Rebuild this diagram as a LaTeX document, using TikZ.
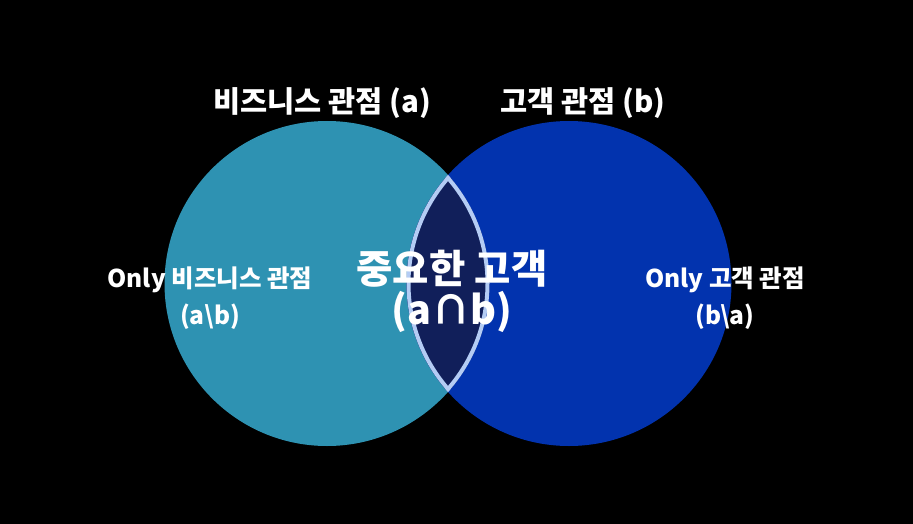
\documentclass[tikz,border=0pt]{standalone}
\usepackage{fontspec}
\setmainfont{Noto Sans CJK KR}
\definecolor{leftc}{HTML}{2E92B2}
\definecolor{rightc}{HTML}{0233AE}
\definecolor{lensc}{HTML}{111F5A}
\definecolor{lensb}{HTML}{B4CCF4}
\tikzset{
  lbl/.style={text=white, font=\bfseries, align=center, inner sep=0pt},
}
\begin{document}
\begin{tikzpicture}[x=1pt,y=-1pt]
\fill[black] (0,0) rectangle (913,524);
\useasboundingbox (0,0) rectangle (913,524);
\coordinate (A) at (327,283.5);
\coordinate (B) at (569,283.5);
\fill[leftc] (A) circle[radius=162.5];
\fill[rightc] (B) circle[radius=162.5];
\begin{scope}
  \clip (A) circle[radius=162.5];
  \clip (B) circle[radius=162.5];
  \fill[lensc] (A) circle[radius=162.5];
  \draw[lensb, line width=8pt] (A) circle[radius=162.5];
  \draw[lensb, line width=8pt] (B) circle[radius=162.5];
\end{scope}
\node[lbl, font=\bfseries\fontsize{29.5}{34}\selectfont] (ta) at (322,103) {비즈니스 관점 (a)};
\node[lbl, font=\bfseries\fontsize{29.5}{34}\selectfont] (tb) at (583,103) {고객 관점 (b)};
\node[lbl, font=\bfseries\fontsize{24.5}{37}\selectfont] (oa) at (210,298) {Only 비즈니스 관점\\(a\textbackslash b)};
\node[lbl, font=\bfseries\fontsize{24.5}{37}\selectfont] (ob) at (725,298) {Only 고객 관점\\(b\textbackslash a)};
\node[lbl, font=\bfseries\fontsize{39.5}{41}\selectfont] (c) at (452,291) {중요한 고객\\(a∩b)};
\end{tikzpicture}
\end{document}
